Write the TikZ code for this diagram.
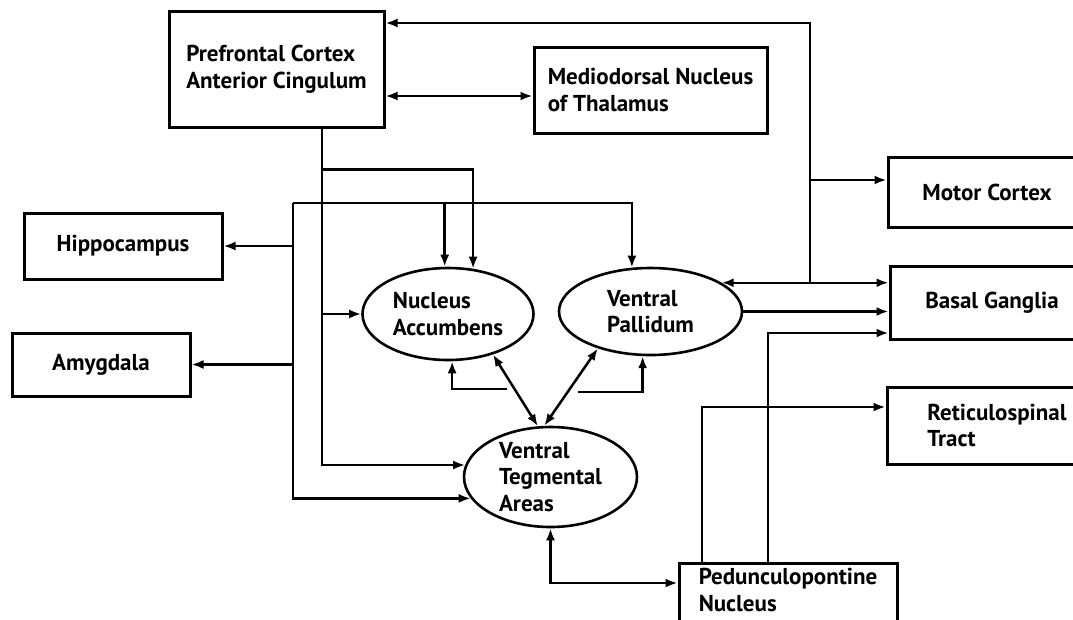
\documentclass[tikz,border=0pt]{standalone}
\usepackage{fontspec}
\setmainfont{PT Sans}
\usetikzlibrary{arrows.meta,shapes.geometric}
\begin{document}
\begin{tikzpicture}[x=1pt,y=-1pt,
  lbl/.style={font=\bfseries\fontsize{23}{26.5}\selectfont, align=left},
  box/.style={lbl, draw, line width=3pt, rectangle, inner sep=0pt},
  oval/.style={lbl, draw, line width=2.6pt, ellipse, inner sep=0pt},
  conn/.style={line width=2.5pt, -{Latex[length=12pt,width=9pt]}},
  bi/.style={line width=2.5pt, {Latex[length=12pt,width=9pt]}-{Latex[length=12pt,width=9pt]}}
]
\useasboundingbox (0,0) rectangle (1073,619);
% boxes
\node[box, minimum width=215, minimum height=116] (pfc) at (276.5,69) {Prefrontal Cortex\\Anterior Cingulum};
\node[box, minimum width=233, minimum height=86] (md) at (650.5,90) {Mediodorsal Nucleus\\of Thalamus};
\node[box, minimum width=198, minimum height=70] (mc) at (987,192) {Motor Cortex};
\node[box, minimum width=204, minimum height=73] (bg) at (992,302.5) {Basal Ganglia};
\node[box, minimum width=220, minimum height=77] (rs) at (997,425.5) {Reticulospinal\\Tract};
\node[box, minimum width=198, minimum height=66] (hip) at (123,246) {Hippocampus};
\node[box, minimum width=178, minimum height=63] (amy) at (101,364.5) {Amygdala};
\node[box, minimum width=218, minimum height=70] (ppn) at (788,598) {Pedunculopontine\\Nucleus\\[-10pt]\mbox{}};
% ellipses
\node[oval, minimum width=171, minimum height=92] (na) at (448,314) {Nucleus\\Accumbens};
\node[oval, minimum width=183, minimum height=87] (vp) at (650.5,311.5) {Ventral\\Pallidum};
\node[oval, inner ysep=-7pt, minimum width=173, minimum height=100] (vta) at (550.5,477) {Ventral\\Tegmental\\Areas};
% right side
\coordinate (jt) at (810,23);
\coordinate (jm) at (810,180);
\draw[bi] (vp.22) -- (vp.22 -| bg.west);
\draw[conn] (vp.22 -| jt) -- (jt) -- (pfc.east |- jt);
\draw[conn] (jm) -- (mc.west |- jm);
\coordinate (mdin) at ([yshift=-6pt]md.west);
\draw[bi] (pfc.east |- mdin) -- (mdin);
\draw[conn] (vp.east) -- (vp.east -| bg.west);
\coordinate (p1) at ([xshift=-20pt]ppn.north);
\coordinate (p2) at ([xshift=-86pt]ppn.north);
\coordinate (bgin) at ([yshift=-30.5pt]bg.west);
\coordinate (rsin) at ([yshift=18.5pt]rs.west);
\draw[conn] (p1) |- (bgin);
\draw[conn] (p2) |- (rsin);
\coordinate (ppnin) at ([yshift=15pt]ppn.west);
\draw[bi] (vta.south) |- (ppnin);
% left side
\coordinate (a) at ([xshift=45.5pt]pfc.south);
\draw[conn] (a) |- (vta.172);
\draw[conn] (a |- na.west) -- (na.west);
\coordinate (k) at ([yshift=-41pt]a);
\draw[conn] (k) -| (na.61);
\coordinate (c) at (293,203);
\draw[conn] (c) -| (vp.113);
\draw[conn] (c -| na.94) -- (na.94);
\draw[conn] (c) |- (vta.195);
\draw[conn] (hip.east -| c) -- (hip.east);
\draw[conn] (amy.east -| c) -- (amy.east);
% centre
\draw[bi] (na.-42) -- (vta.104);
\draw[bi] (vp.215) -- (vta.97);
\coordinate (f1) at (507,389);
\coordinate (f2) at (578,392);
\draw[conn] (f1) -| (na.-85);
\draw[conn] (f2) -| (vp.260);
\end{tikzpicture}
\end{document}
